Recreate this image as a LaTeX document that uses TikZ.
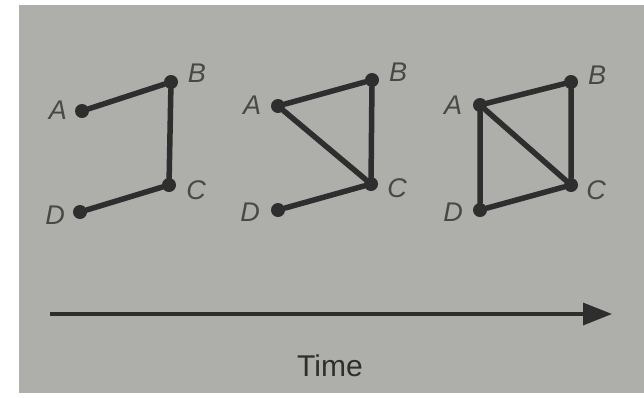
\documentclass[tikz,border=0pt]{standalone}
\usepackage{fontspec}
\setsansfont{Liberation Sans}
\usetikzlibrary{arrows.meta}
\definecolor{paper}{RGB}{174,174,171}
\definecolor{ink}{RGB}{46,46,46}

\begin{document}
\begin{tikzpicture}[x=1pt, y=-1pt,
    vertex/.style={circle, fill=ink, inner sep=0pt, minimum size=14pt},
    vname/.style={text=ink!80!paper, inner sep=0pt, font=\sffamily\itshape\fontsize{27}{27}\selectfont},
    link/.style={draw=ink, line width=5.5pt, line cap=round}]
    \useasboundingbox (0,0) rectangle (644,397);
    \fill[white] (0,0) rectangle (644,397);
    \fill[paper] (19,5) rectangle (644,393);

    % first stage: a path A-B-C-D
    \node[vertex] (a1) at (82,111) {};
    \node[vertex] (b1) at (171,82) {};
    \node[vertex] (c1) at (169,185) {};
    \node[vertex] (d1) at (80,212) {};
    \node[vname] (A1) at (58,110) {A};
    \node[vname] (B1) at (197,73) {B};
    \node[vname] (C1) at (196,190) {C};
    \node[vname] (D1) at (55,215) {D};
    \draw[link] (a1) -- (b1) -- (c1) -- (d1);

    % second stage: A-C added
    \node[vertex] (a2) at (278,106) {};
    \node[vertex] (b2) at (372,80) {};
    \node[vertex] (c2) at (371,184) {};
    \node[vertex] (d2) at (278,210) {};
    \node[vname] (A2) at (252,105) {A};
    \node[vname] (B2) at (398,72) {B};
    \node[vname] (C2) at (397,188) {C};
    \node[vname] (D2) at (250,212) {D};
    \draw[link] (a2) -- (b2) -- (c2) -- (d2);
    \draw[link] (a2) -- (c2);

    % third stage: A-D added
    \node[vertex] (a3) at (480,105) {};
    \node[vertex] (b3) at (571,82) {};
    \node[vertex] (c3) at (571,185) {};
    \node[vertex] (d3) at (480,210) {};
    \node[vname] (A3) at (453,105) {A};
    \node[vname] (B3) at (597,75) {B};
    \node[vname] (C3) at (596,190) {C};
    \node[vname] (D3) at (453,212) {D};
    \draw[link] (a3) -- (b3) -- (c3) -- (d3) -- (a3);
    \draw[link] (a3) -- (c3);

    % time axis
    \coordinate (t0) at (50,314);
    \coordinate (t1) at (612,314);
    \draw[ink, line width=3.5pt, -{Triangle[length=29pt, width=22pt]}] (t0) -- (t1);
    \node[text=ink, font=\sffamily\fontsize{30}{30}\selectfont] (time) at (330,366) {Time};
\end{tikzpicture}
\end{document}
